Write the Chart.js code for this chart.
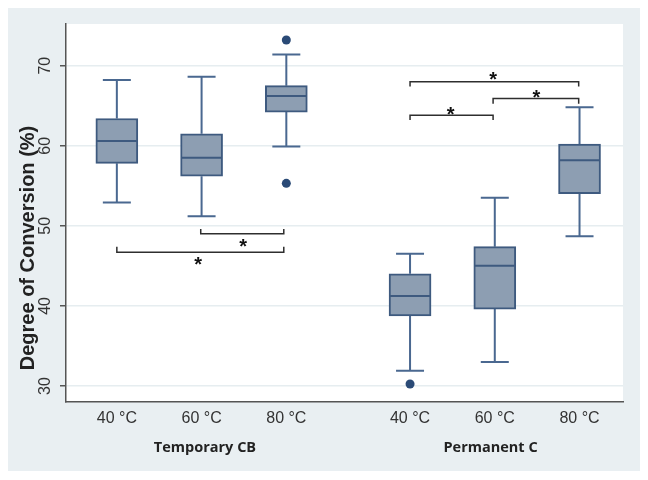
<!DOCTYPE html>
<html>
<head>
<meta charset="utf-8">
<script src="https://cdn.jsdelivr.net/npm/chart.js@4"></script>
<style>
  html, body { margin: 0; padding: 0; background: #fff; }
</style>
</head>
<body>
<canvas id="myChart" width="648" height="480"></canvas>
<script>

var tempLabels = ['40 °C', '60 °C', '80 °C', '40 °C', '60 °C', '80 °C'];
var groupLabels = ['Temporary CB', 'Permanent C'];
var groupCenters = [2.04, 5.41];
var xPositions = [1, 2, 3, 4.46, 5.46, 6.46];
var yTicks = [30, 40, 50, 60, 70];

var whiskerLow = [52.9, 51.2, 59.9, 31.9, 33.0, 48.7];
var q1 = [57.8, 56.2, 64.2, 38.75, 39.6, 54.0];
var median = [60.6, 58.5, 66.2, 41.25, 45.0, 58.2];
var q3 = [63.4, 61.5, 67.5, 44.0, 47.4, 60.2];
var whiskerHigh = [68.2, 68.6, 71.4, 46.5, 53.5, 64.8];

var outlierX = [3, 3, 4.46];
var outlierY = [73.2, 55.3, 30.25];

// significance brackets
var bracketFrom = [1.99, 1.0, 4.46, 5.44, 4.46];
var bracketTo = [2.97, 2.97, 6.45, 6.45, 5.44];
var bracketY = [49.0, 46.7, 68.0, 65.9, 63.8];
var bracketEnd = [49.6, 47.4, 67.4, 65.25, 63.2];
var starX = [2.49, 1.96, 5.44, 5.95, 4.94];
var starY = [48.1, 45.8, 68.9, 66.7, 64.6];

var yTitle = 'Degree of Conversion (%)';

var boxExtras = {
  id: 'boxExtras',
  beforeDraw: function (chart) {
    var ctx = chart.ctx, a = chart.chartArea;
    ctx.save();
    ctx.fillStyle = '#ffffff';
    ctx.fillRect(0, 0, chart.width, chart.height);
    ctx.fillStyle = '#e9eff2';
    ctx.fillRect(8, 8, 632, 463);
    ctx.fillStyle = '#ffffff';
    ctx.fillRect(a.left, a.top, a.right - a.left, a.bottom - a.top);
    ctx.restore();
  },
  beforeDatasetsDraw: function (chart) {
    var ctx = chart.ctx, xs = chart.scales.x, ys = chart.scales.y;
    ctx.save();
    ctx.strokeStyle = '#4a6890';
    ctx.lineWidth = 2;
    xPositions.forEach(function (v, i) {
      var px = xs.getPixelForValue(v);
      ctx.beginPath();
      ctx.moveTo(px, ys.getPixelForValue(whiskerLow[i]));
      ctx.lineTo(px, ys.getPixelForValue(q1[i]));
      ctx.moveTo(px, ys.getPixelForValue(q3[i]));
      ctx.lineTo(px, ys.getPixelForValue(whiskerHigh[i]));
      ctx.moveTo(px - 14, ys.getPixelForValue(whiskerLow[i]));
      ctx.lineTo(px + 14, ys.getPixelForValue(whiskerLow[i]));
      ctx.moveTo(px - 14, ys.getPixelForValue(whiskerHigh[i]));
      ctx.lineTo(px + 14, ys.getPixelForValue(whiskerHigh[i]));
      ctx.stroke();
    });
    ctx.restore();
  },
  afterDatasetsDraw: function (chart) {
    var ctx = chart.ctx, xs = chart.scales.x, ys = chart.scales.y;
    ctx.save();
    // medians
    ctx.strokeStyle = '#3e5a7f';
    ctx.lineWidth = 2;
    xPositions.forEach(function (v, i) {
      var px = xs.getPixelForValue(v);
      var py = ys.getPixelForValue(median[i]);
      ctx.beginPath();
      ctx.moveTo(px - 20, py);
      ctx.lineTo(px + 20, py);
      ctx.stroke();
    });
    // brackets
    ctx.strokeStyle = '#2e2e2e';
    ctx.lineWidth = 1.5;
    bracketFrom.forEach(function (f, i) {
      var x1 = xs.getPixelForValue(f), x2 = xs.getPixelForValue(bracketTo[i]);
      var y = ys.getPixelForValue(bracketY[i]), ye = ys.getPixelForValue(bracketEnd[i]);
      ctx.beginPath();
      ctx.moveTo(x1, ye);
      ctx.lineTo(x1, y);
      ctx.lineTo(x2, y);
      ctx.lineTo(x2, ye);
      ctx.stroke();
    });
    // stars
    ctx.fillStyle = '#111111';
    ctx.font = 'bold 20px "Liberation Sans", Arial, sans-serif';
    ctx.textAlign = 'center';
    ctx.textBaseline = 'alphabetic';
    starX.forEach(function (sx, i) {
      ctx.fillText('*', xs.getPixelForValue(sx), ys.getPixelForValue(starY[i]) + 12);
    });
    // y axis title
    ctx.translate(28, 248);
    ctx.rotate(-Math.PI / 2);
    ctx.fillStyle = '#222222';
    ctx.font = 'bold 20px "Liberation Sans", Arial, sans-serif';
    ctx.textBaseline = 'middle';
    ctx.fillText(yTitle, 0, 0);
    ctx.restore();
  }
};

var ctx = document.getElementById('myChart');
var myChart = new Chart(ctx, {
  type: 'bar',
  data: {
    datasets: [{
      type: 'bar',
      data: xPositions.map(function (x, i) { return { x: x, y: [q1[i], q3[i]] }; }),
      backgroundColor: '#8d9eb2',
      borderColor: '#3e5a7f',
      borderWidth: 2,
      borderSkipped: false,
      barThickness: 42
    }, {
      type: 'scatter',
      data: outlierX.map(function (x, i) { return { x: x, y: outlierY[i] }; }),
      pointRadius: 4.5,
      backgroundColor: '#2a4a76',
      borderWidth: 0
    }]
  },
  options: {
    responsive: false,
    animation: false,
    events: [],
    layout: { padding: { left: 8, top: 24, right: 25, bottom: 8 } },
    plugins: { legend: { display: false }, tooltip: { enabled: false } },
    scales: {
      x: {
        type: 'linear',
        position: 'bottom',
        min: 0.4,
        max: 6.973,
        offset: false,
        weight: 0,
        afterBuildTicks: function (s) { s.ticks = xPositions.map(function (v) { return { value: v }; }); },
        afterFit: function (s) { s.height = 34; },
        grid: { display: false, drawTicks: false },
        border: { display: true, color: '#555555', width: 1.5 },
        ticks: {
          padding: 7, color: '#333333', autoSkip: false, maxRotation: 0,
          font: { family: '"Liberation Sans", Arial, sans-serif', size: 16 },
          callback: function (v, i) { return tempLabels[i]; }
        }
      },
      x2: {
        type: 'linear',
        position: 'bottom',
        min: 0.4,
        max: 6.973,
        offset: false,
        weight: 1,
        afterBuildTicks: function (s) { s.ticks = groupCenters.map(function (v) { return { value: v }; }); },
        afterFit: function (s) { s.height = 36; },
        grid: { display: false, drawTicks: false },
        border: { display: false },
        ticks: {
          padding: 3, color: '#222222', autoSkip: false, maxRotation: 0,
          font: { family: '"Open Sans", sans-serif', size: 14.5, weight: 'bold' },
          callback: function (v, i) { return groupLabels[i]; }
        }
      },
      y: {
        min: 28,
        max: 75.2,
        afterBuildTicks: function (s) { s.ticks = yTicks.map(function (v) { return { value: v }; }); },
        afterFit: function (s) { s.width = 58; },
        grid: { color: '#e6edf0', lineWidth: 1.5, tickColor: '#555555', tickLength: 6 },
        border: { color: '#555555', width: 1.5 },
        ticks: {
          minRotation: 90, maxRotation: 90, crossAlign: 'center', padding: 6,
          color: '#333333',
          font: { family: '"Liberation Sans", Arial, sans-serif', size: 16 }
        }
      }
    }
  },
  plugins: [boxExtras]
});
</script>
</body>
</html>
